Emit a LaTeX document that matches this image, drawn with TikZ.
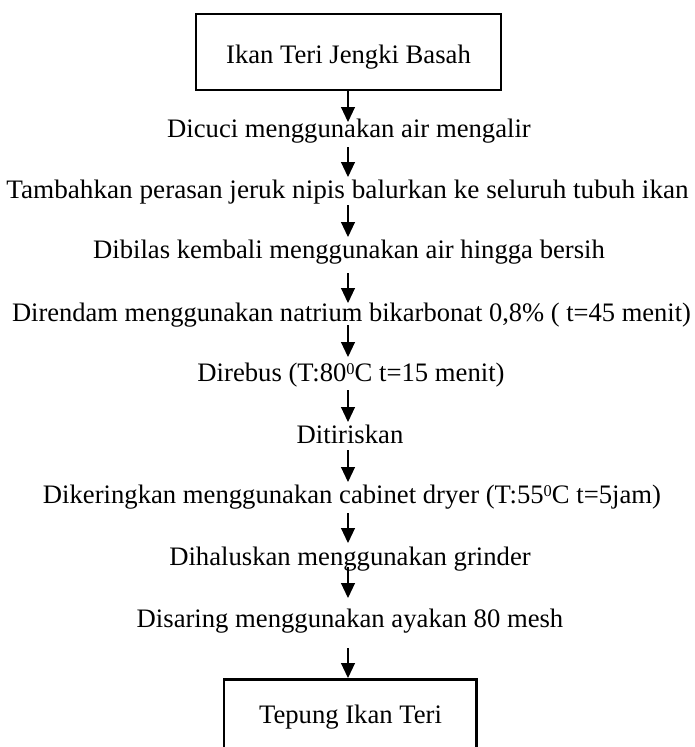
\documentclass[tikz,border=0pt]{standalone}
\usepackage{fontspec}
\setmainfont{Liberation Serif}
\usetikzlibrary{arrows.meta,calc}
\newcommand{\supzero}{\raisebox{5.2pt}{\fontsize{12.3}{12}\selectfont 0}}
\begin{document}
\begin{tikzpicture}[x=0.75pt,y=-0.75pt,
  txt/.style={inner sep=0pt, anchor=base, font=\fontsize{20}{24}\selectfont},
  endbox/.style={draw, line width=2pt, inner sep=0pt, anchor=base,
    text height=16.5pt, text depth=0pt, font=\fontsize{20}{24}\selectfont},
  arr/.style={-{Triangle[width=10.5pt,length=11.25pt]}, line width=0.8pt}]
\useasboundingbox (0,0) rectangle (694,747);
\clip (0,0) rectangle (694,747);
\coordinate (ax) at (348,0);
\node[endbox, minimum width=228.75pt, minimum height=57pt] (b1) at (348.5,63) {Ikan Teri Jengki Basah};
\node[txt] (t1) at (349,137) {Dicuci menggunakan air mengalir};
\node[txt] (t2) at (347.5,198) {\scalebox{1.02}[1]{Tambahkan perasan jeruk nipis balurkan ke seluruh tubuh ikan}};
\node[txt] (t3) at (349,258) {Dibilas kembali menggunakan air hingga bersih};
\node[txt] (t4) at (351.5,321) {\scalebox{0.994}[1]{Direndam menggunakan natrium bikarbonat 0,8\% ( t=45 menit)}};
\node[txt] (t5) at (351,381) {Direbus (T:80\supzero C t=15 menit)};
\node[txt] (t6) at (350,443) {Ditiriskan};
\node[txt] (t7) at (352,503) {Dikeringkan menggunakan cabinet dryer (T:55\supzero C t=5jam)};
\node[txt] (t8) at (350,565) {Dihaluskan menggunakan grinder};
\node[txt] (t9) at (350,627) {Disaring menggunakan ayakan 80 mesh};
\node[draw, line width=2pt, inner sep=0pt, anchor=north, minimum width=189.5pt, minimum height=75pt] (b2) at (350.3,678) {};
\node[txt] (t10) at (350.5,723) {Tepung Ikan Teri};
\draw[arr] (b1.south -| ax) -- ($(t1.base -| ax)+(0,-15)$);
\draw[arr] ($(t1.base -| ax)+(0,10)$) -- ($(t2.base -| ax)+(0,-21)$);
\draw[arr] ($(t2.base -| ax)+(0,7)$) -- ($(t3.base -| ax)+(0,-21)$);
\draw[arr] ($(t3.base -| ax)+(0,15)$) -- ($(t4.base -| ax)+(0,-18)$);
\draw[arr] ($(t4.base -| ax)+(0,4)$) -- ($(t5.base -| ax)+(0,-24)$);
\draw[arr] ($(t5.base -| ax)+(0,9)$) -- ($(t6.base -| ax)+(0,-21)$);
\draw[arr] ($(t6.base -| ax)+(0,7)$) -- ($(t7.base -| ax)+(0,-21)$);
\draw[arr] ($(t7.base -| ax)+(0,10)$) -- ($(t8.base -| ax)+(0,-22)$);
\draw[arr] ($(t8.base -| ax)+(0,2)$) -- ($(t9.base -| ax)+(0,-29)$);
\draw[arr] ($(t9.base -| ax)+(0,21)$) -- (b2.north -| ax);
\end{tikzpicture}
\end{document}
